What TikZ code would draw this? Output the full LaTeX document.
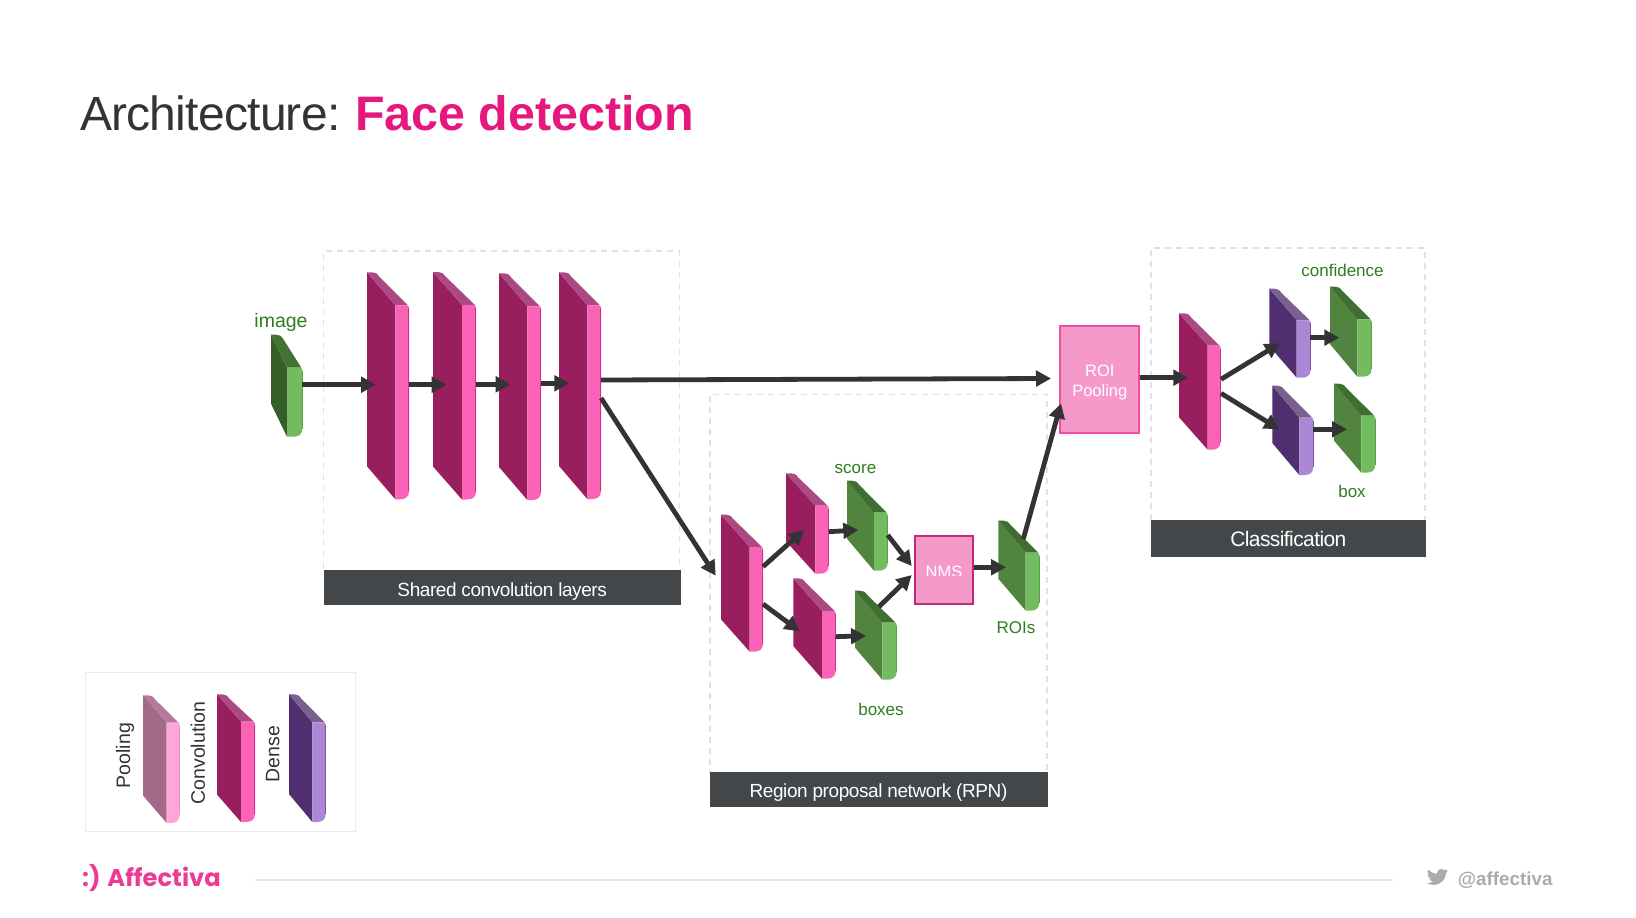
\documentclass[tikz,border=0pt]{standalone}
\usepackage{fontspec}
\setmainfont{Liberation Sans}
\newfontfamily\titlefont[LetterSpace=-1.6]{Liberation Sans}
\newfontfamily\barfont[LetterSpace=-2.2]{Liberation Sans}
\newfontfamily\barfontB[LetterSpace=-2.8]{Liberation Sans}
\newfontfamily\logofont{Poppins}[BoldFont={* Bold}]
\usetikzlibrary{arrows.meta}
\definecolor{pinkF}{HTML}{981E5E}\definecolor{pinkS}{HTML}{FB64B6}\definecolor{pinkT}{HTML}{AB4A82}\definecolor{pinkE}{HTML}{CC2E91}
\definecolor{greenF}{HTML}{51843F}\definecolor{greenS}{HTML}{72BC5F}\definecolor{greenT}{HTML}{3F6E30}\definecolor{greenE}{HTML}{5DA04A}
\definecolor{imgF}{HTML}{365D28}\definecolor{imgS}{HTML}{72BC5F}\definecolor{imgE}{HTML}{5DA04A}\definecolor{imgT}{HTML}{437332}
\definecolor{purpF}{HTML}{4F2F70}\definecolor{purpS}{HTML}{AB87D5}\definecolor{purpT}{HTML}{78608F}\definecolor{purpE}{HTML}{7A55A5}
\definecolor{poolF}{HTML}{A26A88}\definecolor{poolS}{HTML}{FFA6D8}\definecolor{poolT}{HTML}{B4799C}\definecolor{poolE}{HTML}{F08CC8}
\definecolor{barC}{HTML}{434749}\definecolor{arrC}{HTML}{333333}\definecolor{dashC}{HTML}{E3E1DC}
\definecolor{hot}{HTML}{E6177F}\definecolor{lab}{HTML}{2E7D1E}\definecolor{logoC}{HTML}{EC3A96}
\definecolor{roiF}{HTML}{F599CB}\definecolor{roiB}{HTML}{EE4FA3}\definecolor{nmsB}{HTML}{C02A7D}
\newcommand{\fsz}[1]{\fontsize{#1}{#1}\selectfont}
% name, x, y, dx, dy, t, h, colour prefix, top colour
\def\blkx#1#2#3#4#5#6#7#8#9{%
  \pgfmathsetmacro\bkfx{#2+#4}\pgfmathsetmacro\bkfy{#3+#5}\pgfmathsetmacro\bkrx{#2+#4+#6}%
  \pgfmathsetmacro\bkby{#3+#5+#7}\pgfmathsetmacro\bkly{#3+#7}\pgfmathsetmacro\bkw{#4+#6}\pgfmathsetmacro\bkh{#5+#7}%
  \node[anchor=north west,inner sep=0pt,outer sep=0pt,minimum width=\bkw pt,minimum height=\bkh pt] (#1) at (#2,#3) {};
  \fill[#8F] (#2,#3) -- (\bkfx,\bkfy) -- (\bkfx,\bkby) -- (#2,\bkly) -- cycle;
  \fill[#9] (#2,#3) -- ({#2+5},#3) .. controls ({#2+8},#3) and ({#2+10},{#3+1}) .. ({#2+12},{#3+4}) -- ({\bkrx-1},{\bkfy}) -- (\bkfx,\bkfy) -- cycle;
  \fill[#8S] (\bkfx,\bkfy) -- ({\bkrx-2},\bkfy) .. controls ({\bkrx-.5},\bkfy) and (\bkrx,{\bkfy+1}) .. (\bkrx,{\bkfy+3}) -- (\bkrx,{\bkby-8}) .. controls (\bkrx,{\bkby-2}) and ({\bkrx-4},\bkby) .. ({\bkrx-9},\bkby) -- (\bkfx,\bkby) -- cycle;
  \draw[#8E,line width=.8pt] ({\bkrx-.4},{\bkfy+3}) -- ({\bkrx-.4},{\bkby-8});
}
\newcommand{\con}[6]{\draw[arr] ([shift={(#2,#3)}]#1.north west) -- ([shift={(#5,#6)}]#4.north west);}
\tikzset{
  arr/.style={draw=arrC,line width=4.8pt,-{Triangle[length=15pt,width=15.5pt]}},
  dbox/.style={draw=dashC,line width=1.5pt,dash pattern=on 6pt off 5pt,anchor=north west,inner sep=0pt,outer sep=0pt},
  bar/.style={fill=barC,text=white,anchor=north west,inner sep=0pt,outer sep=0pt,text height=17pt,text depth=0pt},
  lbl/.style={text=lab,inner sep=0pt},
  legtxt/.style={text=arrC,rotate=90,inner sep=0pt},
  opbox/.style={anchor=north west,inner sep=0pt,outer sep=0pt,text=white,align=center,line width=2pt}
}
\begin{document}
\begin{tikzpicture}[x=1pt,y=-1pt]
\useasboundingbox[fill=white] (0,0) rectangle (1636,918);
% title
\node[anchor=base west,inner sep=0pt,text=arrC] (title) at (80,130) {\titlefont\fsz{48}Architecture:};
\node[anchor=base west,inner sep=0pt,text=hot] (title2) at (355,130) {\bfseries\fsz{48.4}Face detection};
% panels
\node[dbox,minimum width=355.6pt,minimum height=320pt] (shared) at (323.7,251) {};
\node[dbox,minimum width=337pt,minimum height=380pt] (rpn) at (710,394.4) {};
\node[dbox,minimum width=274pt,minimum height=275pt] (clsbox) at (1151,248) {};
\node[bar,minimum width=357pt,minimum height=35.3pt,font=\barfont\fsz{19}] (sharedbar) at (323.7,570) {Shared convolution layers};
\node[bar,minimum width=338pt,minimum height=34.5pt,font=\barfont\fsz{19}] (rpnbar) at (709.5,772) {Region proposal network (RPN)};
\node[bar,minimum width=274.7pt,minimum height=36.7pt,font=\barfontB\fsz{21}] (clsbar) at (1151,520) {Classification};
% blocks
\blkx{image}{271}{334.7}{16}{33}{15.3}{69}{img}{imgT}
\blkx{convA}{367}{272.3}{28.3}{33}{13.7}{194}{pink}{pinkT}
\blkx{convB}{433}{272}{29}{33}{14}{194.5}{pink}{pinkT}
\blkx{convC}{499}{273.3}{28.3}{33}{13.7}{193.7}{pink}{pinkT}
\blkx{convD}{559}{272.3}{28.3}{33}{13.7}{193.7}{pink}{pinkT}
\blkx{rpnA}{721}{514.7}{28.7}{32.3}{13.3}{104.7}{pink}{pinkT}
\blkx{rpnB}{786}{473.3}{29.3}{32.4}{13.4}{68}{pink}{pinkT}
\blkx{rpnC}{793.3}{578.3}{28.7}{32.7}{13.7}{67.7}{pink}{pinkT}
\blkx{score}{847}{480.7}{27}{32}{13.7}{58}{green}{greenT}
\blkx{boxes}{855}{590.7}{27.3}{32}{14.4}{57}{green}{greenT}
\blkx{rois}{998.3}{520.7}{27.4}{32}{13.6}{58}{green}{greenT}
\blkx{cls}{1179}{313.3}{28.7}{32.4}{13}{104}{pink}{pinkT}
\blkx{denseA}{1269.3}{288.7}{27.4}{31.6}{14}{57.4}{purp}{purpT}
\blkx{conf}{1330}{286.7}{27.3}{32.6}{14.4}{57.4}{green}{greenT}
\blkx{denseB}{1272.3}{385.7}{27}{32}{14}{57.3}{purp}{purpT}
\blkx{boxB}{1334}{383.7}{27.3}{32}{14}{57}{green}{greenT}
% operators
\node[opbox,draw=nmsB,fill=roiF,minimum width=57.4pt,minimum height=68pt] (nms) at (915.3,536.3) {};
\begin{scope}
\clip (916,550) rectangle (972,575);
\node[anchor=base,inner sep=0pt,text=white,font=\fsz{16.5}] (nmstxt) at (nms.center |- 0,577) {NMS};
\end{scope}
\node[opbox,draw=roiB,fill=roiF,minimum width=79pt,minimum height=106.4pt,font=\fsz{16.5}] (roi) at (1060.3,326.3) {\rule{0pt}{17pt}ROI\\[3pt]Pooling};
% connectors
\con{image}{31.3}{50}{convA}{9}{112.4}
\con{convA}{42}{112.4}{convB}{13.7}{112.7}
\con{convB}{43}{112.3}{convC}{11.7}{111}
\con{convC}{42}{110}{convD}{10.3}{111}
\con{convD}{42}{107.7}{roi}{-9.3}{52.2}
\con{convD}{42}{125.7}{rpnA}{-5.3}{61}
\con{rpnA}{42}{52}{rpnB}{18}{56.7}
\con{rpnA}{42}{89.3}{rpnC}{6.4}{53}
\con{rpnB}{42.7}{58.4}{score}{11.3}{49.3}
\con{rpnC}{42.4}{58.4}{boxes}{11}{45}
\con{score}{40.7}{54.3}{nms}{-3.6}{29.7}
\con{boxes}{24}{16}{nms}{-3.6}{38.7}
\con{nms}{58.4}{31}{rois}{7.7}{46.6}
\con{rois}{25}{18.3}{roi}{.7}{77}
\con{roi}{80}{51.4}{cls}{9.3}{64.4}
\con{cls}{42}{66}{denseA}{10.7}{54.6}
\con{cls}{42}{80}{denseB}{7}{43.6}
\con{denseA}{40.7}{49}{conf}{9.3}{51}
\con{denseB}{41}{43.6}{boxB}{13}{45.6}
% labels
\node[lbl,font=\fsz{19.5}] (limage) at (281,322.7) {image};
\node[lbl,font=\fsz{17}] (lscore) at (855.5,469) {score};
\node[lbl,font=\fsz{17}] (lboxes) at (881,709) {boxes};
\node[lbl,font=\fsz{17}] (lrois) at (1016,627.5) {ROIs};
\node[lbl,font=\fsz{17}] (lconf) at (1342.5,270) {confidence};
\node[lbl,font=\fsz{17}] (lbox) at (1352,491) {box};
% legend
\node[draw=black!8,line width=1.5pt,anchor=north west,inner sep=0pt,outer sep=0pt,minimum width=270.4pt,minimum height=159pt] (legend) at (85.3,672.7) {};
\blkx{legP}{143}{695.3}{23.7}{27.4}{13}{100.3}{pool}{poolT}
\blkx{legC}{217}{694.3}{24}{27.4}{14}{100.3}{pink}{pinkT}
\blkx{legD}{289}{694.3}{23.3}{28}{13.4}{99.7}{purp}{purpT}
\node[legtxt,font=\fsz{19.5}] (tP) at (125,755.5) {Pooling};
\node[legtxt,font=\fsz{19.5}] (tC) at (198,753) {Convolution};
\node[legtxt,font=\fsz{19.5}] (tD) at (272.7,754) {Dense};
% footer
\node[anchor=base west,inner sep=0pt,text=logoC] (logo) at (82,886) {\logofont\bfseries\fsz{24.2}:) Affectiva};
\draw[black!10,line width=1.5pt] (255,880) -- (1393,880);
\begin{scope}[shift={(1426.7,867)},x=.89pt,y=-.82pt]
\fill[black!33] (23.95,4.57) -- (21.13,5.35) -- (23.29,2.62) .. controls (22.34,3.18) and (21.29,3.58) .. (20.16,3.81) .. controls (19.2,2.9) and (17.9,2.28) .. (16.6,2.28) .. controls (13.9,2.28) and (11.68,4.5) .. (11.68,7.2) -- (11.78,8.29) .. controls (7.69,8.1) and (4.07,6.13) .. (1.64,3.16) .. controls (1.2,3.9) and (.97,4.75) .. (.97,5.64) .. controls (.97,7.35) and (1.84,8.85) .. (3.16,9.73) -- (.93,9.12) -- (.93,9.18) .. controls (.93,11.5) and (2.6,13.55) .. (4.88,14) -- (2.67,14.09) .. controls (3.3,16.05) and (5.1,17.45) .. (7.27,17.51) .. controls (5.6,18.8) and (3.5,19.61) .. (1.17,19.61) .. controls (.78,19.61) and (.39,19.59) .. (0,19.54) .. controls (2.2,20.95) and (4.8,21.75) .. (7.56,21.75) .. controls (16.61,21.75) and (21.56,14.26) .. (21.56,7.77) .. controls (21.56,7.56) and (21.56,7.35) .. (21.54,7.14) .. controls (22.5,6.44) and (23.35,5.57) .. (24,4.59) -- cycle;
\end{scope}
\node[anchor=base west,inner sep=0pt,text=black!33] (handle) at (1457.7,885) {\bfseries\fsz{18.8}@affectiva};
\end{tikzpicture}
\end{document}
